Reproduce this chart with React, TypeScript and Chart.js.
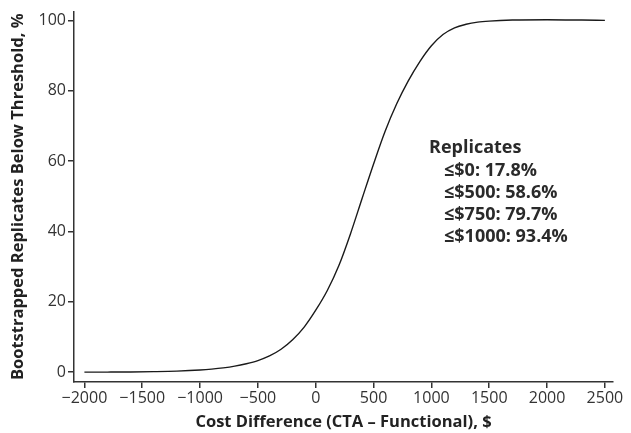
import React, { useEffect, useRef } from "react";
import { Chart, registerables } from "chart.js";

Chart.register(...registerables);

const costDiff = [-2000, -1800, -1600, -1400, -1200, -1000, -900, -800, -700, -600, -500, -400, -300, -200, -100, 0, 100, 200, 300, 400, 500, 600, 700, 800, 900, 1000, 1100, 1200, 1300, 1400, 1500, 1700, 2000, 2300, 2500];
const pctBelow = [0, 0.02, 0.06, 0.15, 0.3, 0.6, 0.85, 1.2, 1.7, 2.4, 3.3, 4.6, 6.5, 9.2, 12.8, 17.6, 23.2, 30.3, 39.3, 49.3, 59.2, 68.5, 76.3, 82.8, 88.3, 92.8, 96.0, 97.9, 98.9, 99.5, 99.8, 100.1, 100.2, 100.1, 100];
const xTicks = [-2000, -1500, -1000, -500, 0, 500, 1000, 1500, 2000, 2500];
const yTicks = [0, 20, 40, 60, 80, 100];
const noteTitle = "Replicates";
const noteLines = ["≤$0: 17.8%", "≤$500: 58.6%", "≤$750: 79.7%", "≤$1000: 93.4%"];

const FONT = "'Open Sans', 'Noto Sans', sans-serif";

const notePlugin = {
  id: "note",
  afterDraw(chart: any) {
    const ctx = chart.ctx;
    ctx.save();
    ctx.fillStyle = "#2a2a2a";
    ctx.font = `bold 18px ${FONT}`;
    ctx.textBaseline = "middle";
    ctx.textAlign = "left";
    ctx.fillText(noteTitle, 429, 148);
    noteLines.forEach((t, i) => {
      ctx.fillText(t, 444, 171 + i * 22);
    });
    ctx.restore();
  },
};

export default function App() {
  const ref = useRef<HTMLCanvasElement | null>(null);
  useEffect(() => {
    if (!ref.current) return;
    const chart = new Chart(ref.current, {
      type: "line",
      data: {
        datasets: [
          {
            data: costDiff.map((x, i) => ({ x, y: pctBelow[i] })),
            borderColor: "#1a1a1a",
            borderWidth: 1.4,
            pointRadius: 0,
            cubicInterpolationMode: "monotone",
            fill: false,
          },
        ],
      },
      options: {
        animation: false,
        responsive: false,
        layout: { padding: { top: 10, right: 18, left: 0, bottom: 0 } },
        plugins: { legend: { display: false }, tooltip: { enabled: false } },
        scales: {
          x: {
            type: "linear",
            min: -2090,
            max: 2570,
            afterBuildTicks: (s: any) => {
              s.ticks = xTicks.map((v) => ({ value: v }));
            },
            afterFit: (s: any) => {
              s.height = 51;
            },
            border: { display: true, color: "#333", width: 1.5 },
            grid: { drawOnChartArea: false, drawTicks: true, tickLength: 6, color: "#333", lineWidth: 1.5 },
            ticks: {
              color: "#333",
              font: { family: FONT, size: 16 },
              padding: 1,
              maxRotation: 0,
              callback: (v: any) => String(v).replace("-", "\u2212"),
            },
            title: {
              display: true,
              text: "Cost Difference (CTA \u2013 Functional), $",
              color: "#222",
              font: { family: FONT, size: 16.5, weight: "bold" },
              padding: { top: 4, bottom: 1 },
            },
          },
          y: {
            type: "linear",
            min: -2.8,
            max: 102.5,
            afterBuildTicks: (s: any) => {
              s.ticks = yTicks.map((v) => ({ value: v }));
            },
            afterFit: (s: any) => {
              s.width = 74;
            },
            border: { display: true, color: "#333", width: 1.5 },
            grid: { drawOnChartArea: false, drawTicks: true, tickLength: 6, color: "#333", lineWidth: 1.5 },
            ticks: {
              color: "#333",
              font: { family: FONT, size: 16 },
              padding: 2,
            },
            title: {
              display: true,
              text: "Bootstrapped Replicates Below Threshold, %",
              color: "#222",
              font: { family: FONT, size: 16.5, weight: "bold" },
              padding: { top: 8, bottom: 4 },
            },
          },
        },
      },
      plugins: [notePlugin],
    } as any);
    return () => chart.destroy();
  }, []);
  return (
    <div style={{ position: "absolute", left: 0, top: 0, width: 631, height: 433, background: "#fff" }}>
      <canvas ref={ref} width={631} height={433} style={{ width: 631, height: 433 }} />
    </div>
  );
}
